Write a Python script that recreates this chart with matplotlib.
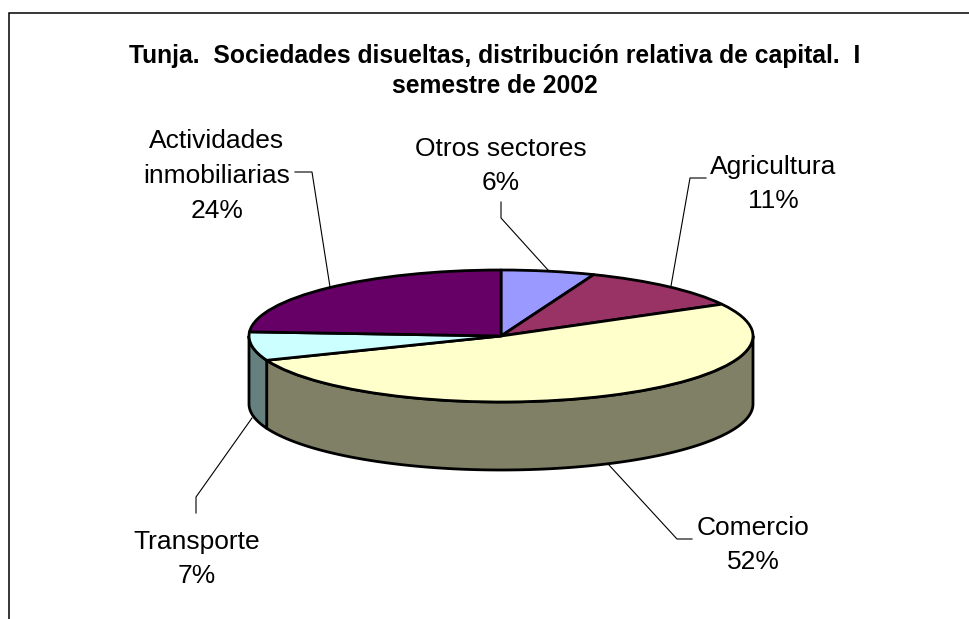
import numpy as np
import matplotlib
matplotlib.use("Agg")
import matplotlib.pyplot as plt

plt.rcParams['font.family'] = ['Liberation Sans', 'DejaVu Sans']

W, H = 969, 619

sectors = ["Otros sectores", "Agricultura", "Comercio", "Transporte", "Actividades\ninmobiliarias"]
shares = [6, 11, 52, 7, 24]
top_colors = ["#9999FF", "#993366", "#FFFFCC", "#CCFFFF", "#660066"]
side_colors = ["#4D4D80", "#4D1A33", "#808066", "#668080", "#330033"]
title = "Tunja.  Sociedades disueltas, distribución relativa de capital.  I\nsemestre de 2002"

# label centre and leader line, in pixels
label_pos = [(501, 166), (773, 184), (753, 545), (197, 559), (217, 176)]
leaders = [
    [(501, 202), (501, 218), (548, 270)],
    [(706, 178), (690, 178), (671, 286)],
    [(692, 539), (677, 539), (609, 465)],
    [(196, 513), (196, 497), (252, 418)],
    [(295, 172), (312, 172), (330, 287)],
]

# pie geometry in pixels
cx, cy, rx, ry, depth = 501, 336, 252, 66, 68

fig = plt.figure(figsize=(W / 100, H / 100), dpi=100)

over = fig.add_axes([0, 0, 1, 1], zorder=3)
over.set_xlim(0, W)
over.set_ylim(H, 0)
over.axis('off')
over.patch.set_alpha(0)

ax = fig.add_axes([(cx - rx) / W, 1 - (cy + ry) / H, 2 * rx / W, 2 * ry / H], zorder=2)
wedges, _ = ax.pie(shares, colors=top_colors, startangle=90, counterclock=False,
                   radius=1, center=(0, 0), frame=False,
                   wedgeprops=dict(edgecolor='black', linewidth=2.0, joinstyle='round'))
ax.set_aspect('auto')
ax.set_xlim(-1, 1)
ax.set_ylim(-1, 1)
ax.axis('off')
for w in wedges:
    w.set_zorder(5)

# side wall of the disc, front half only
d = depth / ry
edges = np.cumsum([0] + shares) * 3.6
for i in range(len(shares)):
    a0, a1 = max(edges[i], 90), min(edges[i + 1], 270)
    if a1 <= a0:
        continue
    t = np.radians(np.linspace(a0, a1, 200))
    x, y = np.sin(t), np.cos(t)
    ax.fill(np.r_[x, x[::-1]], np.r_[y, y[::-1] - d], facecolor=side_colors[i],
            edgecolor='black', linewidth=2.0, clip_on=False, zorder=2, joinstyle='round')

# chart frame, cut off on the right and at the bottom
over.plot([9, 9, W], [H, 12.5, 12.5], color='black', lw=1.1, solid_joinstyle='miter')

over.text(495, 71, title, ha='center', va='center', fontsize=17.7, fontweight='bold',
          linespacing=1.33, color='black')

for name, s, pos, line in zip(sectors, shares, label_pos, leaders):
    over.text(pos[0], pos[1], f"{name}\n{s}%", ha='center', va='center', fontsize=19,
              linespacing=1.56, color='black')
    over.plot([p[0] for p in line], [p[1] for p in line], color='black', lw=0.8)

fig.savefig('out.png', dpi=100)
